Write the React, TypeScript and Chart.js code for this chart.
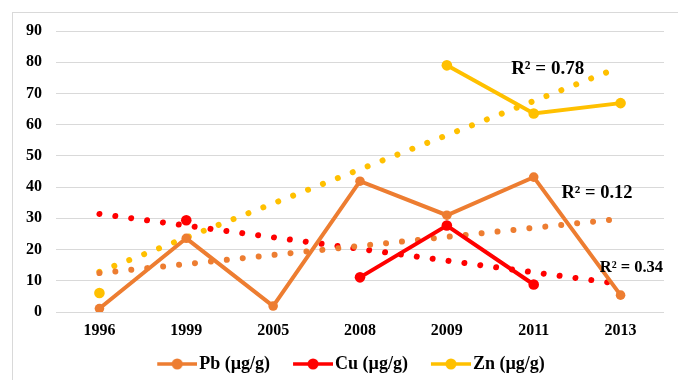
import React, { useEffect, useRef } from "react";
import { Chart, registerables } from "chart.js";
Chart.register(...registerables);

const years = ["1996", "1999", "2005", "2008", "2009", "2011", "2013"];
const pbValues: (number | null)[] = [1.1, 23.6, 1.9, 41.9, 31.0, 43.2, 5.4];
const cuValues: (number | null)[] = [null, 29.4, null, 11.1, 27.7, 8.8, null];
const znValues: (number | null)[] = [6.1, null, null, null, 79.0, 63.6, 66.9];
const seriesNames = ["Pb (µg/g)", "Cu (µg/g)", "Zn (µg/g)"];
const seriesColors = ["#ED7D31", "#FF0000", "#FFC000"];
const r2Texts = ["R² = 0.12", "R² = 0.34", "R² = 0.78"];
const yMin = 0;
const yMax = 90;
const yStep = 10;

const FONT = '"Liberation Serif", "Times New Roman", serif';

// Linear least-squares trendline over category index (like Excel's linear trendline)
function trend(values: (number | null)[]): (number | null)[] {
  const pts = values
    .map((v, i) => (v == null ? null : [i, v]))
    .filter((p): p is number[] => p !== null);
  const n = pts.length;
  const mx = pts.reduce((s, p) => s + p[0], 0) / n;
  const my = pts.reduce((s, p) => s + p[1], 0) / n;
  let sxy = 0, sxx = 0;
  pts.forEach((p) => {
    sxy += (p[0] - mx) * (p[1] - my);
    sxx += (p[0] - mx) * (p[0] - mx);
  });
  const b = sxy / sxx;
  const a = my - b * mx;
  return values.map((_, i) => (i === 0 || i === values.length - 1 ? a + b * i : null));
}

function makeMarker(color: string): HTMLCanvasElement {
  const c = document.createElement("canvas");
  c.width = 60;
  c.height = 14;
  const ctx = c.getContext("2d")!;
  ctx.strokeStyle = color;
  ctx.lineWidth = 3.5;
  ctx.beginPath();
  ctx.moveTo(20, 7);
  ctx.lineTo(60, 7);
  ctx.stroke();
  ctx.fillStyle = color;
  ctx.beginPath();
  ctx.arc(40, 7, 5.5, 0, Math.PI * 2);
  ctx.fill();
  return c;
}

export default function App() {
  const ref = useRef<HTMLCanvasElement>(null);

  useEffect(() => {
    const canvas = ref.current!;
    const markers = seriesColors.map(makeMarker);
    const mains = [pbValues, cuValues, znValues];

    const frame = {
      id: "frame",
      beforeDraw(chart: any) {
        const ctx = chart.ctx;
        ctx.save();
        ctx.fillStyle = "#ffffff";
        ctx.fillRect(0, 0, chart.width, chart.height);
        ctx.strokeStyle = "#d9d9d9";
        ctx.lineWidth = 1;
        ctx.strokeRect(12.5, 12.5, 800, 600);
        ctx.restore();
      },
    };

    const r2Pos = [
      { i: 5.32, v: 36.5, size: 18.5 },
      { i: 5.76, v: 12.9, size: 16.5 },
      { i: 4.74, v: 76.1, size: 19 },
    ];
    const r2Plugin = {
      id: "r2",
      afterDatasetsDraw(chart: any) {
        const ctx = chart.ctx;
        const xs = chart.scales.x;
        const ys = chart.scales.y;
        ctx.save();
        ctx.fillStyle = "#000";
        ctx.textAlign = "left";
        ctx.textBaseline = "alphabetic";
        r2Texts.forEach((t, k) => {
          const p = r2Pos[k];
          ctx.font = `bold ${p.size}px ${FONT}`;
          ctx.fillText(t, xs.getPixelForValue(p.i), ys.getPixelForValue(p.v));
        });
        ctx.restore();
      },
    };

    const datasets: any[] = [];
    mains.forEach((vals, k) => {
      datasets.push({
        label: seriesNames[k],
        data: vals,
        borderColor: seriesColors[k],
        backgroundColor: seriesColors[k],
        borderWidth: 4,
        pointRadius: k === 0 ? 4.8 : 5.3,
        pointBorderWidth: 0,
        pointBackgroundColor: seriesColors[k],
        spanGaps: false,
        order: 1,
      });
    });
    mains.forEach((vals, k) => {
      datasets.push({
        label: "trend" + k,
        data: trend(vals),
        borderColor: seriesColors[k],
        borderWidth: 6,
        borderDash: [0.01, 16],
        borderCapStyle: "round",
        pointRadius: 0,
        spanGaps: true,
        order: 5,
      });
    });

    const chart = new Chart(canvas, {
      type: "line",
      data: { labels: years, datasets },
      options: {
        responsive: false,
        animation: false,
        events: [],
        layout: { padding: { left: 25, right: 14, top: 31, bottom: 17 } },
        scales: {
          x: {
            offset: true,
            grid: { display: false },
            border: { display: false },
            ticks: { color: "#000", font: { family: FONT, weight: "bold", size: 16 }, padding: 1 },
            afterFit(scale: any) {
              scale.height = 33;
            },
          },
          y: {
            min: yMin,
            max: yMax,
            grid: { color: "#d9d9d9", lineWidth: 1, drawTicks: false },
            border: { display: false },
            ticks: {
              stepSize: yStep,
              color: "#000",
              font: { family: FONT, weight: "bold", size: 16 },
              padding: 14,
            },
            afterFit(scale: any) {
              scale.width = 31;
            },
          },
        },
        plugins: {
          legend: {
            position: "bottom",
            labels: {
              usePointStyle: true,
              pointStyleWidth: 46,
              padding: 10,
              color: "#000",
              font: { family: FONT, weight: "bold", size: 18 },
              generateLabels() {
                return seriesNames.map((name, k) => ({
                  text: name,
                  pointStyle: markers[k],
                  fillStyle: seriesColors[k],
                  strokeStyle: seriesColors[k],
                  lineWidth: 0,
                  hidden: false,
                  datasetIndex: k,
                  fontColor: "#000",
                }));
              },
            },
          },
          tooltip: { enabled: false },
        },
      },
      plugins: [frame, r2Plugin],
    } as any);

    return () => chart.destroy();
  }, []);

  return (
    <div style={{ position: "fixed", left: 0, top: 0, width: 678, height: 380, overflow: "hidden", background: "#fff" }}>
      <canvas ref={ref} width={678} height={400} style={{ display: "block", width: 678, height: 400 }} />
    </div>
  );
}
